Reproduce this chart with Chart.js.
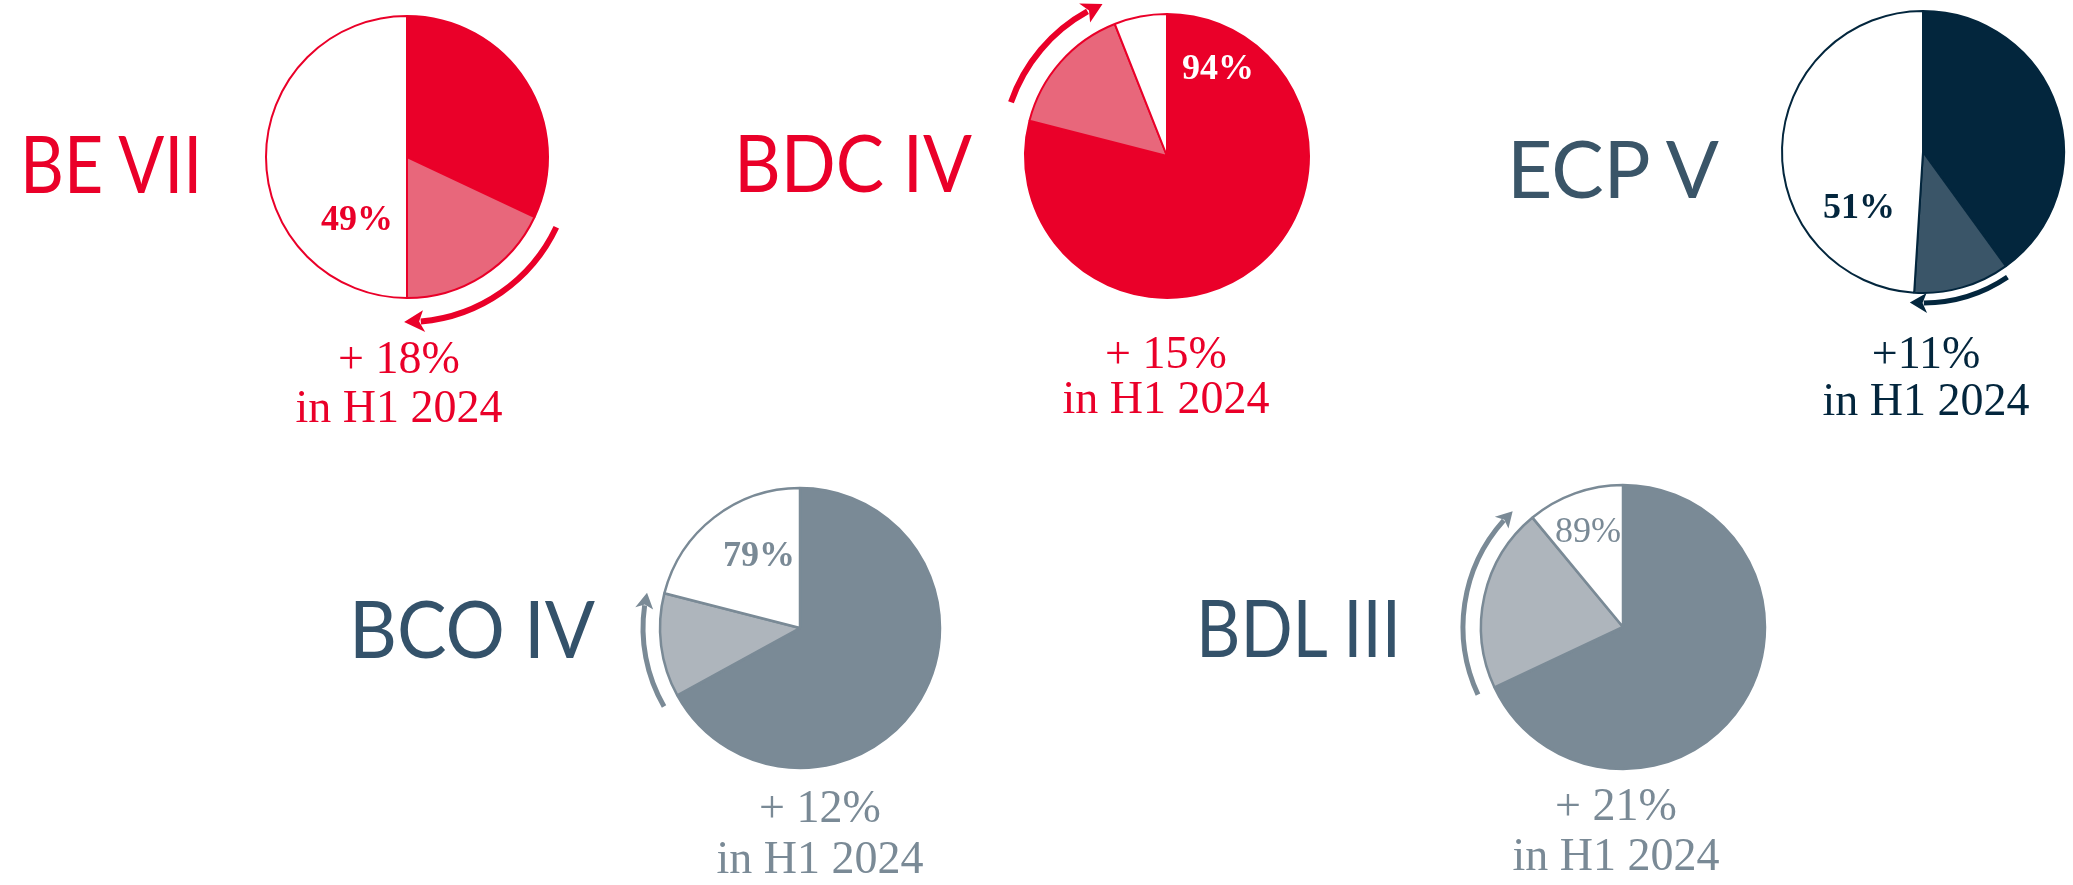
<!DOCTYPE html>
<html><head><meta charset="utf-8">
<script src="https://cdn.jsdelivr.net/npm/chart.js@4.4.1/dist/chart.umd.min.js"></script>
<style>
html,body{margin:0;padding:0;background:#fff;width:2073px;height:885px;overflow:hidden;position:relative;}
canvas{position:absolute;left:0;top:0;}
.lbl{position:absolute;left:0;top:0;white-space:nowrap;line-height:1.2;}
</style></head><body>
<script>
// ---------- data ----------
const funds = ["BE VII", "BDC IV", "ECP V", "BCO IV", "BDL III"];
const previousShare = [32, 79, 40, 67, 68];
const addedH1 = [18, 15, 11, 12, 21];
const remainingShare = [50, 6, 49, 21, 11];
const totalLabels = ["49%", "94%", "51%", "79%", "89%"];
const growthLabels = ["+ 18%", "+ 15%", "+11%", "+ 12%", "+ 21%"];
const periodLabel = "in H1 2024";
const sliceNames = ["Previously invested", "Invested in H1 2024", "Remaining"];

// ---------- layout / styles ----------
const W = 2073, H = 885, S = 145;
const RED = '#EA0029', RED_L = '#E8677B';
const NAVY = '#03263D', NAVY_L = '#3A5568';
const GRAY = '#7A8A96', GRAY_L = '#AEB5BC';
const SLATE = '#34526A';
const layout = [
  {cx:407, cy:157, r:141, main:RED, light:RED_L, border:RED, bw:2,
   titleColor:RED, title:{x1:20, x2:199, base:193},
   totalColor:RED, totalWeight:700, total:{cx:357, base:230},
   textColor:RED, growth:{cx:399, b1:373, b2:422},
   arrow:{gap:24, s:0, e:1, w:6, color:RED, head:20, hw:11}},
  {cx:1167, cy:156, r:142, main:RED, light:RED_L, border:RED, bw:2,
   titleColor:RED, title:{x1:734, x2:972, base:192},
   totalColor:'#FFFFFF', totalWeight:600, total:{cx:1218, base:79},
   textColor:RED, growth:{cx:1166, b1:368, b2:413},
   arrow:{gap:23, s:4.6, e:-1.4, w:6, color:RED, head:20, hw:11}},
  {cx:1923, cy:152, r:141, main:NAVY, light:NAVY_L, border:NAVY, bw:2,
   titleColor:NAVY_L, title:{x1:1507, x2:1719, base:198},
   totalColor:NAVY, totalWeight:700, total:{cx:1859, base:218},
   textColor:NAVY, growth:{cx:1926, b1:368, b2:415},
   arrow:{gap:10, s:2, e:1.4, w:5, color:NAVY, head:17, hw:10}},
  {cx:800, cy:628, r:140, main:GRAY, light:GRAY_L, border:GRAY, bw:2.5,
   titleColor:SLATE, title:{x1:349, x2:595, base:658},
   totalColor:GRAY, totalWeight:600, total:{cx:759, base:566},
   textColor:GRAY, growth:{cx:820, b1:822, b2:873},
   arrow:{gap:17, s:-1.2, e:-1.4, w:5, color:GRAY, head:16, hw:9}},
  {cx:1623, cy:627, r:142, main:GRAY, light:GRAY_L, border:GRAY, bw:2.5,
   titleColor:SLATE, title:{x1:1196, x2:1401, base:657},
   totalColor:GRAY, totalWeight:400, total:{cx:1588, base:542},
   textColor:GRAY, growth:{cx:1616, b1:820, b2:870},
   arrow:{gap:18, s:0.2, e:-4, w:5, color:GRAY, head:16, hw:9}}
];

function makeArrowPlugin(cfg){
  return {
    id:'growthArrow',
    afterDatasetsDraw(chart){
      const arc = chart.getDatasetMeta(0).data[1];
      const p = arc.getProps(['x','y','startAngle','endAngle','outerRadius'], true);
      const ctx = chart.ctx;
      const R = p.outerRadius + cfg.gap;
      const d2r = Math.PI/180;
      const a0 = p.startAngle + cfg.s*d2r;
      const at = p.endAngle + cfg.e*d2r;
      const ab = at - cfg.head/R;
      ctx.save();
      ctx.strokeStyle = cfg.color; ctx.fillStyle = cfg.color;
      ctx.lineWidth = cfg.w; ctx.lineCap = 'butt';
      ctx.beginPath();
      ctx.arc(p.x, p.y, R, a0, ab + 0.02, false);
      ctx.stroke();
      const pt = (rad, a) => [p.x + rad*Math.cos(a), p.y + rad*Math.sin(a)];
      const tip = pt(R, at), b1 = pt(R + cfg.hw, ab), b2 = pt(R - cfg.hw, ab), nb = pt(R, ab + 0.25*cfg.head/R);
      ctx.beginPath();
      ctx.moveTo(tip[0], tip[1]);
      ctx.lineTo(b1[0], b1[1]);
      ctx.lineTo(nb[0], nb[1]);
      ctx.lineTo(b2[0], b2[1]);
      ctx.closePath();
      ctx.fill();
      ctx.restore();
    }
  };
}

function placeText(txt, font, color, x, base, align, fitW){
  const d = document.createElement('div');
  d.className = 'lbl';
  d.style.font = font;
  d.style.color = color;
  d.appendChild(document.createTextNode(txt));
  const m = document.createElement('span');
  m.style.cssText = 'display:inline-block;width:0;height:0;vertical-align:baseline;';
  d.appendChild(m);
  document.body.appendChild(d);
  const off = m.offsetTop;
  const w = d.getBoundingClientRect().width;
  d.style.top = (base - off) + 'px';
  if (fitW){
    let k = fitW / w;
    if (k > 1.18) k = 1.18; if (k < 0.85) k = 0.85;
    d.style.transformOrigin = '0 0';
    d.style.transform = 'scaleX(' + k + ')';
    d.style.left = x + 'px';
  } else if (align === 'center'){
    d.style.left = (x - w/2) + 'px';
  } else {
    d.style.left = x + 'px';
  }
  return d;
}

const SANS = "'Lato', 'Open Sans', sans-serif";
const SERIF = "'Liberation Serif', 'DejaVu Serif', serif";

funds.forEach((name, i) => {
  const L = layout[i];
  const cv = document.createElement('canvas');
  cv.width = W; cv.height = H;
  cv.style.width = W + 'px'; cv.style.height = H + 'px';
  document.body.appendChild(cv);
  new Chart(cv, {
    type: 'pie',
    data: {
      labels: sliceNames,
      datasets: [{
        label: name,
        data: [previousShare[i], addedH1[i], remainingShare[i]],
        backgroundColor: [L.main, L.light, '#FFFFFF'],
        borderColor: L.border,
        borderWidth: L.bw,
        hoverOffset: 0,
        radius: L.r
      }]
    },
    options: {
      responsive: false,
      animation: false,
      devicePixelRatio: 1,
      events: [],
      radius: L.r,
      layout: { padding: { left: L.cx - S, right: W - L.cx - S, top: L.cy - S, bottom: H - L.cy - S } },
      plugins: { legend: { display: false }, tooltip: { enabled: false } }
    },
    plugins: [makeArrowPlugin(L.arrow)]
  });

  // fund name
  placeText(name, "400 80px " + SANS, L.titleColor, L.title.x1, L.title.base, 'left', L.title.x2 - L.title.x1);
  // total share label inside pie
  placeText(totalLabels[i], L.totalWeight + " 36px " + SERIF, L.totalColor, L.total.cx, L.total.base, 'center');
  // growth label
  placeText(growthLabels[i], "400 46px " + SERIF, L.textColor, L.growth.cx, L.growth.b1, 'center');
  placeText(periodLabel, "400 46px " + SERIF, L.textColor, L.growth.cx, L.growth.b2, 'center');
});
</script>
</body></html>
